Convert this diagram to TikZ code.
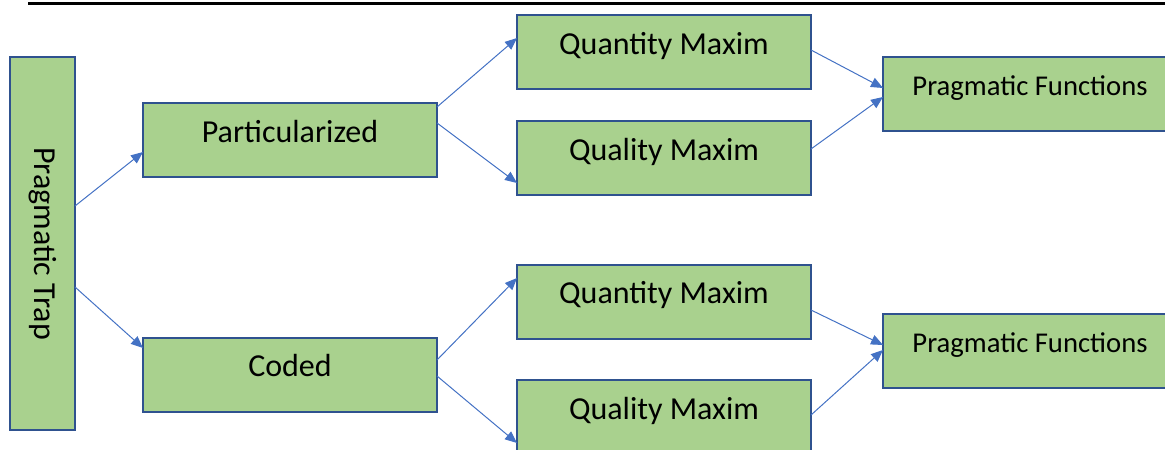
\documentclass[tikz,border=0pt]{standalone}
\usepackage{fontspec}
\setmainfont{Carlito}
\usetikzlibrary{calc,arrows.meta}
\definecolor{boxgreen}{HTML}{A9D18E}
\definecolor{boxline}{HTML}{2F528F}
\definecolor{linkblue}{HTML}{4472C4}
\tikzset{
  trapdiagram/.style={
    x=0.75pt
    ,y=-0.75pt
    ,inner sep=0pt
    ,outer sep=0pt
  }
  ,greenbox/.style={draw=boxline, line width=1.5pt, fill=boxgreen
    ,font=\fontsize{24}{28}\selectfont, text=black}
  ,trapbox/.style={greenbox, minimum width=48.75pt, minimum height=279.75pt}
  ,kindbox/.style={greenbox, minimum width=220.5pt, minimum height=55.5pt
    ,text height=0.625em, text depth=0.3125em}
  ,maximbox/.style={kindbox}
  ,funcbox/.style={kindbox, font=\fontsize{21.5}{26}\selectfont}
  ,link/.style={draw=linkblue, line width=0.75pt
    ,-{Triangle[length=9pt,width=7.5pt]}}
  ,toprule/.style={line width=2.25pt, black}
}

\begin{document}
\begin{tikzpicture}[trapdiagram]
  \clip (0,0) rectangle (1165,450);
  \useasboundingbox (0,0) rectangle (1165,450);
  % rule on top
  \coordinate (rulestart) at (28,3.3);
  \coordinate (ruleend) at (1165,3.3);
  \draw[toprule] (rulestart) -- (ruleend);

  % left column
  \node[trapbox] (trap) at (42.5,243.5) {\rotatebox{-90}{Pragmatic Trap}};
  \node[kindbox] (part) at (290,140) {Particularized};
  \node[kindbox] (coded) at (290,374.5) {Coded};

  % maxims
  \node[maximbox] (quant1) at (664,52) {Quantity Maxim};
  \node[maximbox] (qual1) at (664,158) {Quality Maxim};
  \node[maximbox] (quant2) at (664,301.5) {Quantity Maxim};
  \node[maximbox] (qual2) at (664,417) {Quality Maxim};

  % functions
  \node[funcbox] (func1) at (1030,93.5) {Pragmatic Functions};
  \node[funcbox] (func2) at (1030,350.5) {Pragmatic Functions};

  % connectors
  \draw[link] ($(trap.east)+(0,-37.5)$) -- ($(part.west)+(0,12)$);
  \draw[link] ($(trap.east)+(0,43.5)$) -- ($(coded.west)+(0,-26.5)$);
  \draw[link] ($(part.east)+(0,-33)$) -- ($(quant1.west)+(0,-14)$);
  \draw[link] ($(part.east)+(0,-17)$) -- ($(qual1.west)+(0,25)$);
  \draw[link] ($(quant1.east)+(0,-2)$) -- ($(func1.west)+(0,-5.5)$);
  \draw[link] ($(qual1.east)+(0,-9)$) -- ($(func1.west)+(0,3.5)$);
  \draw[link] ($(coded.east)+(0,-14.5)$) -- ($(quant2.west)+(0,-23.5)$);
  \draw[link] ($(coded.east)+(0,1.5)$) -- ($(qual2.west)+(0,26)$);
  \draw[link] ($(quant2.east)+(0,8.5)$) -- ($(func2.west)+(0,-5.5)$);
  \draw[link] ($(qual2.east)+(0,-2)$) -- ($(func2.west)+(0,-0.5)$);
\end{tikzpicture}
\end{document}
